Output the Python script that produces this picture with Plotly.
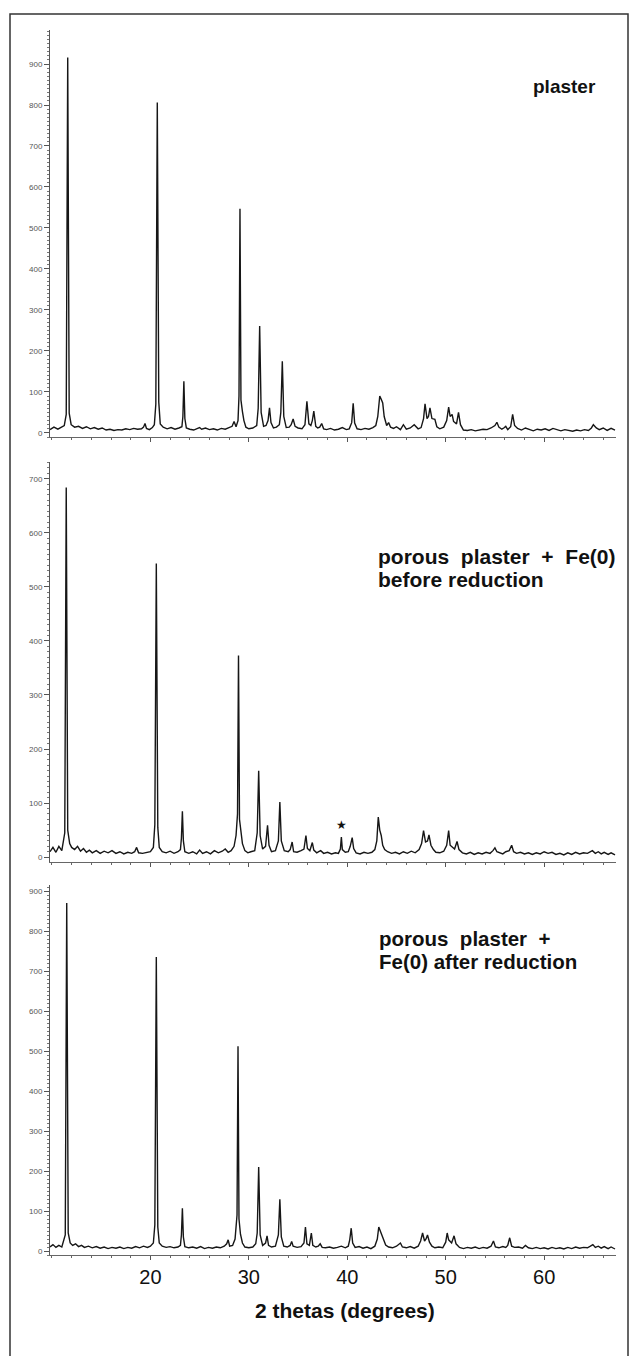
import plotly.graph_objects as go

# ---------------- data ----------------
plaster_points = [
    (9.8, 8), (10.2, 14), (10.6, 9), (11.0, 15), (11.25, 18), (11.45, 45), (11.6, 916), (11.75, 48), (11.95, 20),
    (12.3, 14), (12.7, 16), (13.1, 11), (13.5, 15), (13.9, 10), (14.3, 13), (14.7, 9), (15.1, 12), (15.5, 7),
    (15.9, 9), (16.3, 6), (16.7, 8), (17.1, 7), (17.5, 10), (17.9, 8), (18.3, 11), (18.7, 9), (19.1, 10),
    (19.3, 14), (19.45, 23), (19.6, 11), (19.9, 8), (20.2, 13), (20.4, 20), (20.55, 70), (20.7, 806), (20.85, 75),
    (21.0, 22), (21.3, 14), (21.7, 10), (22.1, 13), (22.5, 9), (22.9, 12), (23.2, 15), (23.3, 40), (23.4, 126),
    (23.5, 35), (23.65, 12), (24.0, 9), (24.4, 7), (24.8, 11), (25.0, 13), (25.2, 9), (25.6, 12), (26.0, 8),
    (26.4, 10), (26.8, 7), (27.2, 11), (27.6, 9), (28.0, 13), (28.3, 16), (28.5, 28), (28.7, 15), (28.9, 30),
    (29.0, 90), (29.1, 547), (29.2, 80), (29.35, 52), (29.5, 30), (29.7, 14), (30.0, 10), (30.4, 12), (30.8, 18),
    (30.95, 60), (31.1, 261), (31.25, 50), (31.5, 16), (31.75, 18), (31.95, 30), (32.1, 61), (32.25, 25),
    (32.5, 12), (32.8, 14), (33.1, 20), (33.25, 50), (33.4, 175), (33.55, 40), (33.8, 13), (34.1, 14), (34.3, 20),
    (34.5, 34), (34.7, 16), (35.0, 12), (35.4, 10), (35.7, 20), (35.9, 77), (36.1, 22), (36.3, 18), (36.45, 30),
    (36.6, 53), (36.8, 16), (37.0, 12), (37.2, 14), (37.4, 23), (37.6, 10), (37.9, 8), (38.3, 11), (38.7, 7),
    (39.1, 9), (39.5, 13), (39.9, 8), (40.2, 10), (40.45, 25), (40.6, 72), (40.75, 24), (41.0, 10), (41.4, 8),
    (41.8, 11), (42.2, 9), (42.6, 13), (42.9, 18), (43.1, 40), (43.3, 90), (43.45, 82), (43.6, 73), (43.75, 40),
    (44.0, 18), (44.2, 25), (44.4, 14), (44.7, 11), (45.0, 15), (45.4, 8), (45.7, 20), (46.0, 9), (46.4, 12),
    (46.8, 20), (47.2, 10), (47.5, 13), (47.75, 35), (47.9, 71), (48.1, 35), (48.25, 40), (48.4, 61), (48.6, 35),
    (48.9, 33), (49.1, 15), (49.4, 10), (49.8, 14), (50.1, 30), (50.3, 63), (50.45, 40), (50.65, 45), (50.8, 28),
    (51.1, 22), (51.3, 50), (51.5, 20), (51.8, 7), (52.2, 6), (52.6, 8), (53.0, 5), (53.4, 7), (53.8, 9),
    (54.2, 8), (54.6, 12), (55.0, 18), (55.2, 26), (55.4, 14), (55.7, 9), (55.9, 12), (56.1, 16), (56.3, 8),
    (56.6, 15), (56.8, 45), (57.0, 18), (57.3, 11), (57.7, 7), (58.1, 12), (58.5, 8), (58.9, 5), (59.3, 9),
    (59.7, 7), (60.1, 10), (60.5, 6), (60.9, 11), (61.3, 8), (61.7, 5), (62.1, 8), (62.5, 6), (62.9, 4),
    (63.3, 7), (63.7, 5), (64.1, 8), (64.5, 6), (64.8, 12), (65.0, 20), (65.3, 12), (65.6, 8), (66.0, 12),
    (66.4, 6), (66.8, 11), (67.2, 7),
]

before_points = [
    (9.8, 10), (10.1, 18), (10.4, 9), (10.7, 20), (11.0, 12), (11.2, 30), (11.3, 45), (11.45, 684), (11.6, 50),
    (11.8, 25), (12.0, 18), (12.3, 14), (12.6, 20), (12.9, 11), (13.2, 16), (13.5, 9), (13.8, 13), (14.1, 8),
    (14.5, 12), (14.9, 7), (15.3, 11), (15.7, 8), (16.1, 12), (16.5, 7), (16.9, 10), (17.3, 6), (17.7, 9),
    (18.1, 7), (18.4, 10), (18.6, 18), (18.8, 8), (19.2, 7), (19.6, 9), (20.0, 10), (20.3, 18), (20.45, 60),
    (20.6, 543), (20.75, 55), (20.9, 18), (21.2, 10), (21.6, 8), (22.0, 11), (22.4, 7), (22.8, 10), (23.05, 14),
    (23.15, 35), (23.25, 85), (23.35, 30), (23.5, 10), (23.9, 7), (24.3, 10), (24.7, 6), (25.0, 13), (25.3, 7),
    (25.7, 10), (26.1, 6), (26.5, 12), (26.9, 8), (27.3, 11), (27.6, 15), (27.9, 9), (28.2, 12), (28.5, 20),
    (28.7, 40), (28.85, 80), (28.95, 373), (29.05, 70), (29.2, 46), (29.35, 25), (29.6, 12), (29.9, 8),
    (30.2, 10), (30.6, 12), (30.85, 45), (31.0, 160), (31.15, 40), (31.4, 15), (31.7, 20), (31.9, 59),
    (32.05, 22), (32.3, 10), (32.7, 12), (33.0, 30), (33.15, 102), (33.3, 30), (33.6, 12), (34.0, 10),
    (34.2, 14), (34.4, 28), (34.55, 10), (34.9, 9), (35.3, 12), (35.6, 15), (35.8, 40), (35.95, 16), (36.2, 12),
    (36.45, 27), (36.6, 13), (36.9, 8), (37.1, 10), (37.3, 12), (37.6, 7), (38.0, 9), (38.4, 6), (38.8, 8),
    (39.1, 7), (39.3, 15), (39.4, 37), (39.5, 14), (39.8, 9), (40.1, 10), (40.3, 20), (40.5, 36), (40.65, 16),
    (40.9, 8), (41.3, 6), (41.7, 9), (42.1, 7), (42.5, 9), (42.8, 14), (43.0, 30), (43.15, 74), (43.3, 50),
    (43.45, 40), (43.6, 22), (43.8, 14), (44.1, 10), (44.5, 7), (44.9, 9), (45.3, 6), (45.7, 10), (46.1, 7),
    (46.5, 11), (46.9, 8), (47.3, 14), (47.55, 25), (47.75, 49), (47.95, 28), (48.15, 30), (48.3, 41),
    (48.5, 22), (48.75, 14), (49.0, 9), (49.4, 8), (49.8, 11), (50.1, 22), (50.3, 49), (50.45, 22), (50.7, 18),
    (50.9, 15), (51.15, 29), (51.35, 14), (51.7, 8), (52.1, 6), (52.5, 9), (52.9, 5), (53.3, 8), (53.7, 6),
    (54.1, 9), (54.5, 7), (54.8, 12), (55.0, 17), (55.2, 10), (55.5, 8), (55.8, 6), (56.1, 10), (56.45, 12),
    (56.7, 22), (56.9, 10), (57.2, 7), (57.6, 9), (58.0, 6), (58.4, 8), (58.8, 5), (59.2, 8), (59.6, 6),
    (60.0, 10), (60.4, 7), (60.8, 9), (61.2, 5), (61.6, 7), (62.0, 4), (62.4, 8), (62.8, 5), (63.2, 9),
    (63.6, 6), (64.0, 8), (64.4, 7), (64.7, 10), (64.9, 12), (65.2, 7), (65.5, 10), (65.8, 6), (66.1, 9),
    (66.5, 5), (66.8, 8), (67.2, 4),
]

after_points = [
    (9.8, 10), (10.1, 16), (10.4, 9), (10.7, 14), (11.0, 10), (11.2, 25), (11.35, 40), (11.5, 870), (11.65, 45),
    (11.85, 20), (12.1, 14), (12.4, 18), (12.7, 11), (13.0, 14), (13.3, 9), (13.7, 12), (14.1, 8), (14.5, 11),
    (14.9, 7), (15.3, 10), (15.7, 6), (16.1, 9), (16.5, 7), (16.9, 10), (17.3, 6), (17.7, 9), (18.1, 7),
    (18.5, 11), (18.9, 8), (19.3, 12), (19.7, 9), (20.0, 12), (20.3, 20), (20.45, 65), (20.6, 735), (20.75, 60),
    (20.9, 20), (21.2, 12), (21.6, 9), (22.0, 11), (22.4, 8), (22.8, 10), (23.05, 14), (23.15, 40), (23.25, 107),
    (23.35, 35), (23.5, 11), (23.9, 8), (24.3, 10), (24.7, 7), (25.1, 11), (25.5, 6), (25.9, 9), (26.3, 7),
    (26.7, 10), (27.1, 8), (27.5, 12), (27.75, 18), (27.9, 28), (28.05, 12), (28.35, 14), (28.6, 30),
    (28.8, 90), (28.9, 512), (29.0, 80), (29.15, 42), (29.35, 20), (29.6, 10), (30.0, 8), (30.4, 10),
    (30.7, 18), (30.85, 45), (31.0, 210), (31.15, 40), (31.4, 14), (31.7, 20), (31.85, 38), (32.0, 14),
    (32.3, 10), (32.7, 12), (33.0, 40), (33.15, 129), (33.3, 35), (33.55, 12), (33.9, 10), (34.2, 14),
    (34.35, 24), (34.5, 12), (34.9, 9), (35.3, 11), (35.6, 20), (35.75, 60), (35.9, 18), (36.15, 14),
    (36.35, 45), (36.5, 14), (36.8, 10), (37.05, 12), (37.25, 18), (37.45, 9), (37.8, 8), (38.2, 10),
    (38.6, 7), (39.0, 9), (39.4, 12), (39.8, 8), (40.1, 12), (40.25, 28), (40.4, 57), (40.55, 20), (40.8, 9),
    (41.2, 11), (41.6, 7), (42.0, 10), (42.4, 6), (42.8, 12), (43.05, 30), (43.2, 60), (43.35, 50), (43.5, 40),
    (43.7, 30), (43.9, 15), (44.2, 10), (44.6, 8), (45.0, 12), (45.4, 20), (45.6, 10), (46.0, 8), (46.4, 11),
    (46.8, 7), (47.2, 12), (47.45, 25), (47.65, 45), (47.85, 25), (48.0, 30), (48.15, 40), (48.35, 22),
    (48.6, 12), (48.9, 8), (49.3, 10), (49.7, 8), (50.0, 22), (50.15, 45), (50.3, 28), (50.6, 20), (50.85, 38),
    (51.05, 18), (51.4, 9), (51.8, 6), (52.2, 9), (52.6, 7), (53.0, 10), (53.4, 6), (53.8, 9), (54.2, 7),
    (54.6, 12), (54.85, 25), (55.05, 10), (55.4, 8), (55.8, 11), (56.1, 9), (56.3, 14), (56.5, 33), (56.7, 12),
    (57.0, 9), (57.4, 10), (57.8, 7), (58.1, 14), (58.4, 8), (58.8, 6), (59.2, 9), (59.6, 6), (60.0, 8),
    (60.4, 5), (60.8, 9), (61.2, 6), (61.6, 8), (62.0, 5), (62.4, 9), (62.8, 6), (63.2, 10), (63.6, 7),
    (64.0, 9), (64.4, 8), (64.7, 12), (64.95, 16), (65.2, 9), (65.5, 12), (65.8, 7), (66.1, 11), (66.5, 6),
    (66.8, 10), (67.2, 5),
]

panel_labels = ["plaster", "porous  plaster  +  Fe(0)", "before reduction",
                "porous  plaster  +", "Fe(0) after reduction"]
x_tick_values = [20, 30, 40, 50, 60]
star_position = (39.4, 60)   # marked peak in the middle pattern
y_ranges = [(-10, 983), (-9, 731), (-10, 915)]
x_range = (9.8, 67.3)

# ---------------- figure ----------------
W, H = 630, 1356
FONT = "Liberation Sans, Arial, Helvetica, sans-serif"
LINE = "#161616"

def py(pix):  # pixel-from-top -> paper fraction
    return 1 - pix / H

def px(pix):
    return pix / W

x_domain = [px(50), px(616)]
y_domains = [[py(437), py(30)], [py(862), py(462)], [py(1255), py(885)]]

fig = go.Figure()
for i, pts in enumerate([plaster_points, before_points, after_points]):
    xs = [p[0] for p in pts]
    ys = [p[1] for p in pts]
    fig.add_trace(go.Scatter(
        x=xs, y=ys, mode="lines",
        line=dict(color=LINE, width=1.4),
        xaxis="x" if i == 0 else f"x{i+1}",
        yaxis="y" if i == 0 else f"y{i+1}",
        showlegend=False, hoverinfo="skip",
    ))

layout = dict(
    width=W, height=H,
    margin=dict(l=0, r=0, t=0, b=0),
    paper_bgcolor="white", plot_bgcolor="white",
    font=dict(family=FONT, color="#111"),
    showlegend=False,
)

for i in range(3):
    sx = "" if i == 0 else str(i + 1)
    last = (i == 2)
    layout[f"xaxis{sx}"] = dict(
        domain=x_domain, range=list(x_range), anchor=f"y{sx}",
        showgrid=False, zeroline=False,
        showline=True, linecolor="#666", linewidth=1,
        ticks="outside", ticklen=4, tickwidth=1, tickcolor="#555",
        tickvals=x_tick_values,
        showticklabels=last,
        tickfont=dict(size=20, family=FONT, color="#111"),
        minor=dict(dtick=2, tick0=0, ticks="outside", ticklen=2, tickcolor="#666"),
    )
    layout[f"yaxis{sx}"] = dict(
        domain=y_domains[i], range=list(y_ranges[i]), anchor=f"x{sx}",
        showgrid=False, zeroline=False,
        showline=True, linecolor="#555", linewidth=1,
        ticks="outside", ticklen=5, tickwidth=1, tickcolor="#555",
        dtick=100, tick0=0,
        tickfont=dict(size=8, family=FONT, color="#555"),
        minor=dict(dtick=10, tick0=0, ticks="outside", ticklen=2, tickcolor="#777"),
    )

def nb(s):
    return s.replace(" ", "\u00a0")

annotations = [
    dict(text=panel_labels[0], x=px(531), y=py(86), xref="paper", yref="paper",
         xanchor="left", yanchor="middle", showarrow=False,
         font=dict(size=19, family=FONT, color="#111", weight="bold")),
    dict(text=nb(panel_labels[1]), x=px(376), y=py(556), xref="paper", yref="paper",
         xanchor="left", yanchor="middle", showarrow=False,
         font=dict(size=21, family=FONT, color="#111", weight="bold")),
    dict(text=nb(panel_labels[2]), x=px(376), y=py(580), xref="paper", yref="paper",
         xanchor="left", yanchor="middle", showarrow=False,
         font=dict(size=21, family=FONT, color="#111", weight="bold")),
    dict(text=nb(panel_labels[3]), x=px(377), y=py(938), xref="paper", yref="paper",
         xanchor="left", yanchor="middle", showarrow=False,
         font=dict(size=20.5, family=FONT, color="#111", weight="bold")),
    dict(text=nb(panel_labels[4]), x=px(377), y=py(962), xref="paper", yref="paper",
         xanchor="left", yanchor="middle", showarrow=False,
         font=dict(size=20.5, family=FONT, color="#111", weight="bold")),
    dict(text="★", x=star_position[0], y=star_position[1], xref="x2", yref="y2",
         xanchor="center", yanchor="middle", showarrow=False,
         font=dict(size=12, family="DejaVu Sans", color="#111")),
    dict(text="2 thetas (degrees)", x=px(345), y=py(1310), xref="paper", yref="paper",
         xanchor="center", yanchor="middle", showarrow=False,
         font=dict(size=21, family=FONT, color="#111", weight="bold")),
]
layout["annotations"] = annotations

layout["shapes"] = [
    dict(type="rect", xref="paper", yref="paper",
         x0=px(10), x1=px(628), y0=py(1362), y1=py(14),
         line=dict(color="#333", width=1.5), fillcolor="rgba(0,0,0,0)", layer="below"),
]

fig.update_layout(**layout)
fig.write_html("out.html")
